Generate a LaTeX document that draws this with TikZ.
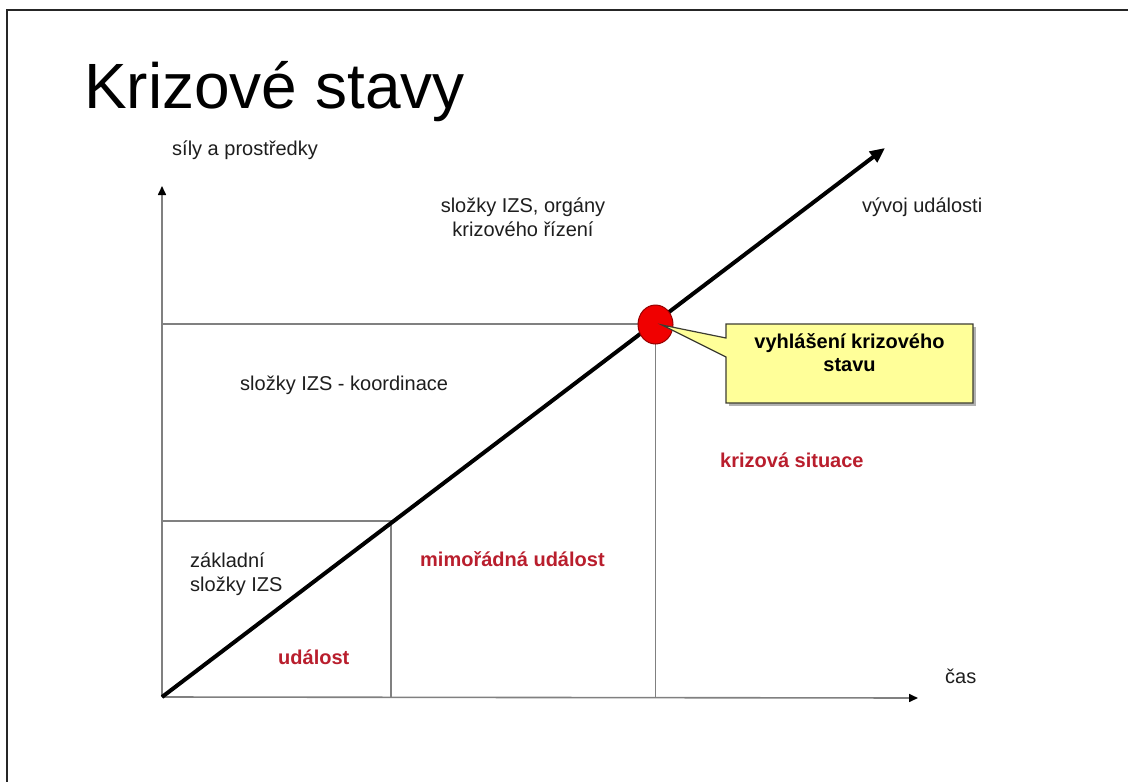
\documentclass[tikz,border=0pt]{standalone}
\usepackage{fontspec}
\setmainfont{Liberation Sans}
\usetikzlibrary{arrows.meta}
\definecolor{axisgray}{RGB}{128,128,128}
\definecolor{txtred}{RGB}{185,30,45}
\definecolor{calloutyellow}{RGB}{255,255,153}
\definecolor{calloutborder}{RGB}{60,60,50}
\definecolor{dotred}{RGB}{240,0,0}
\definecolor{dotborder}{RGB}{150,0,0}
\definecolor{txtdark}{RGB}{30,30,30}
\begin{document}
\begin{tikzpicture}[x=1pt,y=-1pt,
  lbl/.style={inner sep=0pt,font=\fontsize{20}{24}\selectfont,text=txtdark},
  redlbl/.style={inner sep=0pt,font=\fontsize{20}{24}\selectfont\bfseries,text=txtred},
  calltext/.style={inner sep=0pt,font=\fontsize{20}{24}\selectfont\bfseries,text=black},
  axisline/.style={draw=axisgray,line width=1.6pt,-{Triangle[length=9pt,width=8pt]},arrows={[color=black]}},
  gridline/.style={draw=axisgray,line width=1.3pt},
  devline/.style={draw=black,line width=4pt,-{Triangle[length=15pt,width=13pt]}},
]
\useasboundingbox (0,0) rectangle (1128,782);
\fill[white] (0,0) rectangle (1128,782);
% frame
\draw[line width=2pt,draw=black!85] (7,782) -- (7,10) -- (1128,10);

% title
\node[inner sep=0pt,anchor=base west,font=\fontsize{64}{70}\selectfont,text=black] (title) at (84,108) {Krizové stavy};

% coordinates
\coordinate (O) at (162,697);
\coordinate (Ytip) at (162,186);
\coordinate (Xtip) at (918,698);
\coordinate (Dtip) at (885,148);
\coordinate (Hleft) at (162,324);
\coordinate (Hmid) at (655.5,324);
\coordinate (Vbot) at (655.5,697);
\coordinate (Lleft) at (162,521);
\coordinate (Lmid) at (391,521);
\coordinate (Lbot) at (391,697);

% grid lines
\draw[gridline] (Hleft) -- (Hmid) -- (Vbot);
\draw[gridline] (Lleft) -- (Lmid) -- (Lbot);

% axes
\draw[axisline] (O) -- (Ytip);
\draw[axisline] (O) -- (Xtip);

% development line
\draw[devline] (O) -- (Dtip);

% red dot
\coordinate (K) at (655.5,324.5);
\draw[fill=dotred,draw=dotborder,line width=1pt] (K) ellipse (17.5 and 19.5);

% callout
\coordinate (Ctip) at (662,325);
\fill[black!30] (729,327) -- (976,327) -- (976,406) -- (729,406) -- cycle;
\draw[fill=calloutyellow,draw=calloutborder,line width=1.2pt]
  (726,324) -- (973,324) -- (973,403) -- (726,403) -- (726,357) -- (Ctip) -- (726,338) -- cycle;
\node[calltext,anchor=base] (c1) at (849.5,348) {vyhlášení krizového};
\node[calltext,anchor=base] (c2) at (849.5,371) {stavu};

% labels
\node[lbl,anchor=base west] (ylab) at (172,155) {síly a prostředky};
\node[lbl,anchor=base] (top1) at (523,212) {složky IZS, orgány};
\node[lbl,anchor=base] (top2) at (523,236) {krizového řízení};
\node[lbl,anchor=base west] (vyvoj) at (862,212) {vývoj události};
\node[lbl,anchor=base west] (koord) at (240,390) {složky IZS - koordinace};
\node[redlbl,anchor=base west] (kriz) at (720,467) {krizová situace};
\node[redlbl,anchor=base west] (mimo) at (420,566) {mimořádná událost};
\node[lbl,anchor=base west] (zakl1) at (190,567) {základní};
\node[lbl,anchor=base west] (zakl2) at (190,591) {složky IZS};
\node[redlbl,anchor=base west] (udal) at (278,664) {událost};
\node[lbl,anchor=base west] (cas) at (945,683) {čas};
\end{tikzpicture}
\end{document}
